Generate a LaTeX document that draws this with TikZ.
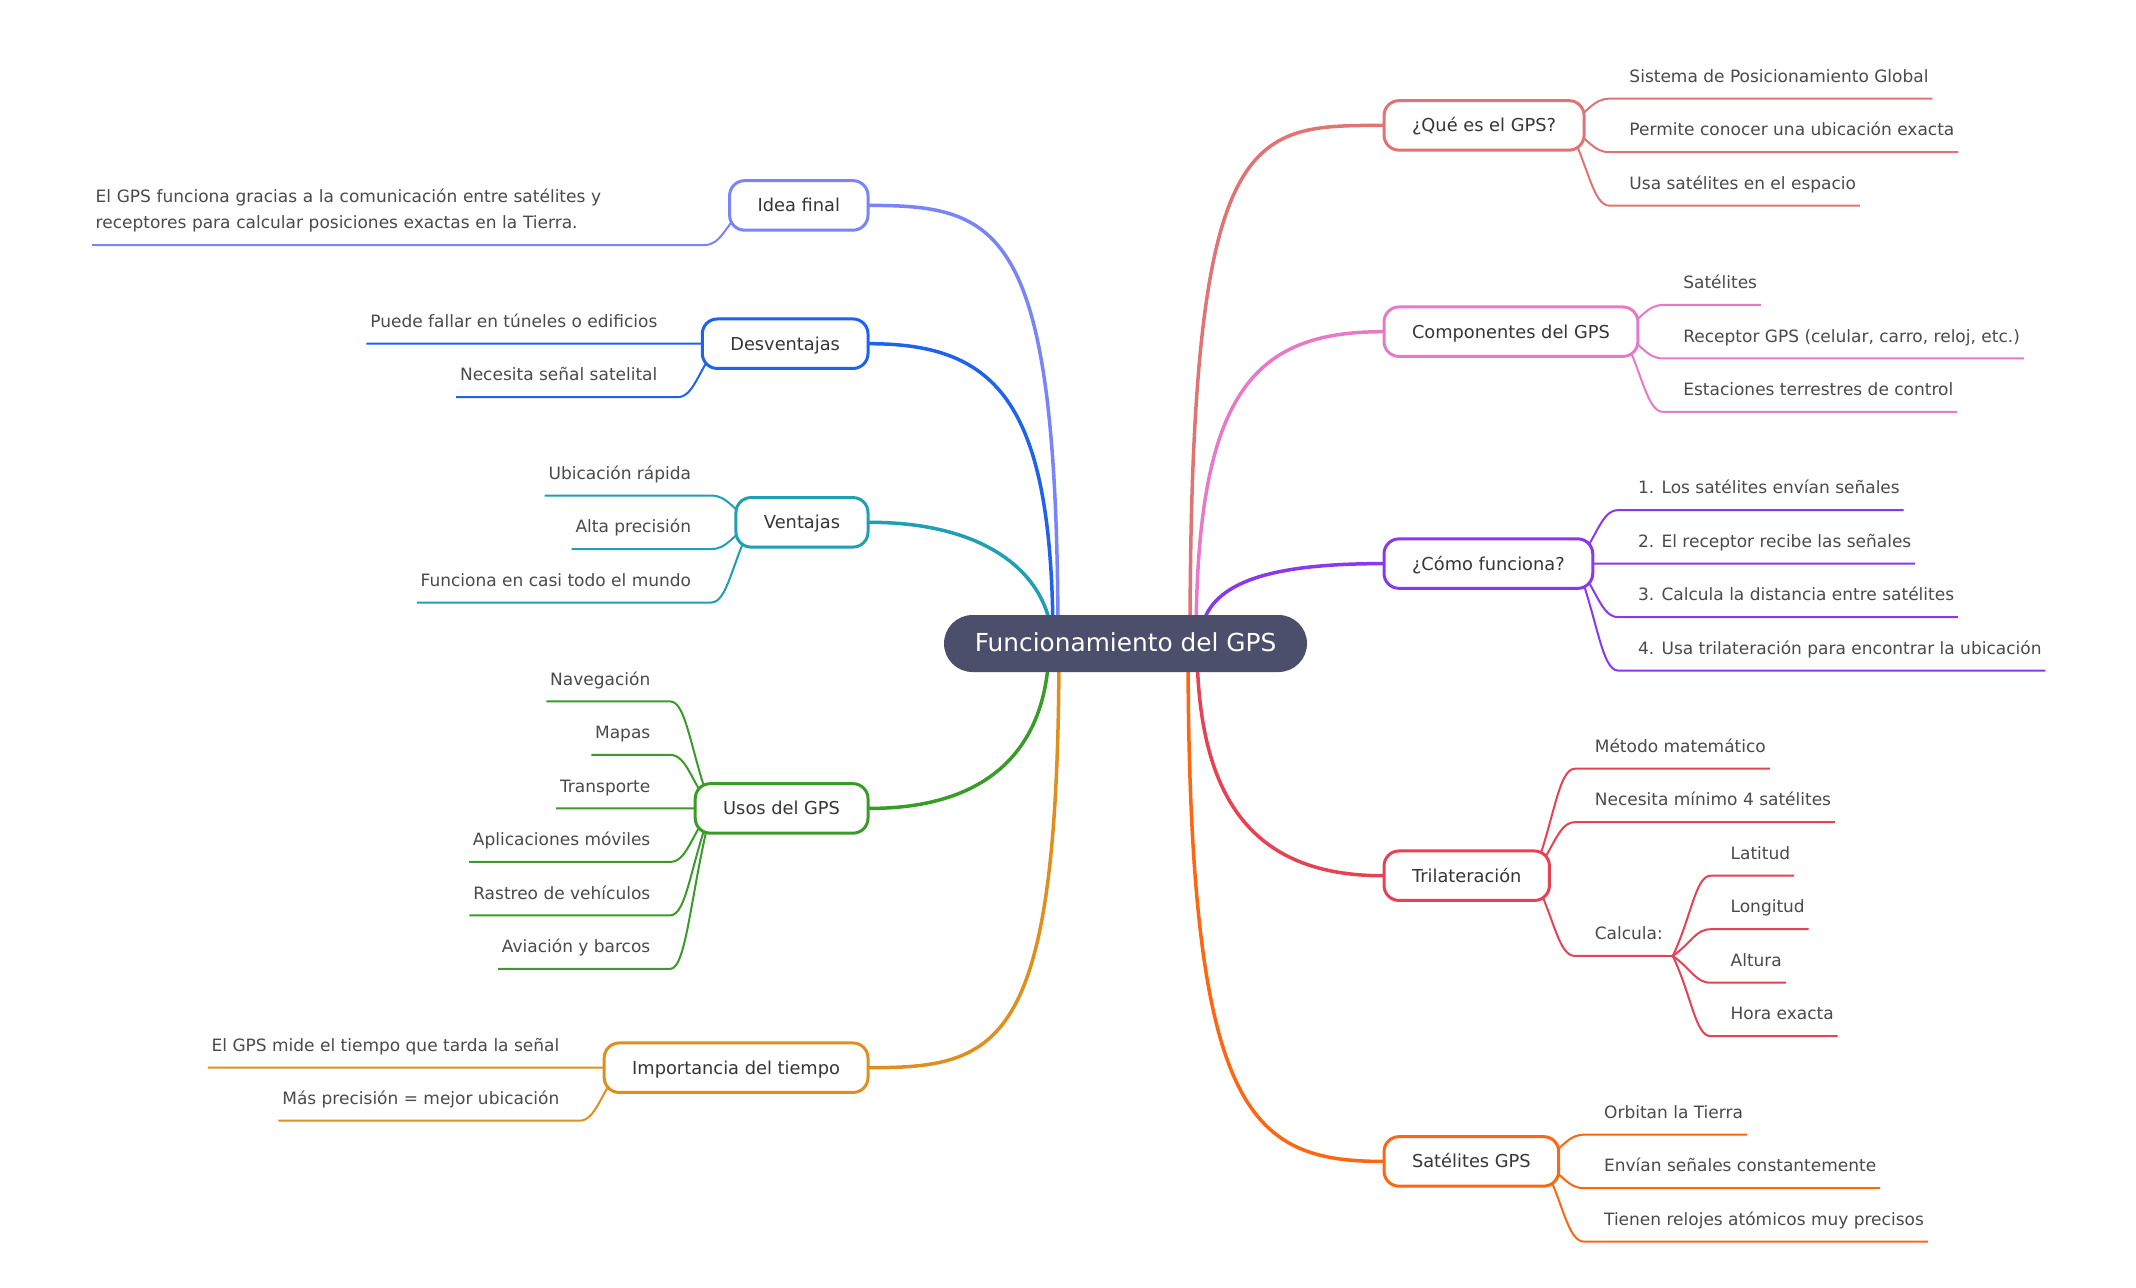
\documentclass[tikz,border=0pt]{standalone}
\usepackage{fontspec}
\setmainfont{DejaVu Sans}
\usetikzlibrary{calc}
\definecolor{rootc}{HTML}{4B4F6B}
\definecolor{cQue}{HTML}{E07474}
\definecolor{cComp}{HTML}{E879C8}
\definecolor{cComo}{HTML}{8A38EC}
\definecolor{cTri}{HTML}{E64254}
\definecolor{cSat}{HTML}{FF6611}
\definecolor{cIdea}{HTML}{7884F8}
\definecolor{cDesv}{HTML}{1E62EE}
\definecolor{cVent}{HTML}{209EB2}
\definecolor{cUsos}{HTML}{3A9C28}
\definecolor{cImp}{HTML}{E08E1E}
\definecolor{leaftext}{HTML}{4A4A4A}
\definecolor{topictext}{HTML}{363636}
\pgfdeclarelayer{background}
\pgfsetlayers{background,main}
\tikzset{
  rootnode/.style={fill=rootc, text=white, rounded corners=14.25pt, minimum height=28.5pt,
    minimum width=181.5pt, inner sep=0pt, font=\fontsize{12.4}{14}\selectfont,
    text height=9pt, text depth=0.8pt},
  topic/.style={draw=#1, fill=white, line width=1.5pt, rounded corners=7.5pt,
    minimum height=24.75pt, inner xsep=14pt, inner ysep=0pt, text=topictext,
    font=\fontsize{8.9}{10.5}\selectfont, text height=7pt, text depth=0.5pt},
  leaf/.style={inner xsep=1.75pt, inner ysep=0pt, text=leaftext,
    font=\fontsize{8.5}{13}\selectfont, text height=7pt, text depth=8pt},
  rleaf/.style={leaf, anchor=south west},
  lleaf/.style={leaf, anchor=south east},
  bline/.style={line width=1.75pt, line cap=round},
  lline/.style={line width=1pt},
}
% color, start coordinate, leaf
\newcommand\RLeafLink[3]{%
  \path (#2) coordinate (ta) ($(#3.south west)+(-16,0)$) coordinate (tb);
  \draw[lline,#1] (ta) .. controls ($(ta)!0.5!(tb)$) and ($(tb)!0.4!(ta|-tb)$) .. (tb) -- (#3.south east);}
\newcommand\LLeafLink[3]{%
  \path (#2) coordinate (ta) ($(#3.south east)+(16,0)$) coordinate (tb);
  \draw[lline,#1] (ta) .. controls ($(ta)!0.5!(tb)$) and ($(tb)!0.4!(ta|-tb)$) .. (tb) -- (#3.south west);}
% color, dx from root centre, target, factor
\newcommand\BranchLink[4]{%
  \path ($(root.center)+(#2,0)$) coordinate (ba) (#3) coordinate (bb);
  \draw[bline,#1] (ba) .. controls ($(ba)!#4!(ba|-bb)$) and ($(ba|-bb)!0.3!(bb)$) .. (bb);}
\begin{document}
\begin{tikzpicture}[x=0.5pt,y=-0.5pt]
\useasboundingbox (0,0) rectangle (2136,1287);
% root
\node[rootnode] (root) at (1125.5,643.5) {Funcionamiento del GPS};
% right topics
\node[topic=cQue, anchor=west] (que) at (1382.5,125.4) {¿Qué es el GPS?};
\node[topic=cComp, anchor=west] (comp) at (1382.5,331.7) {Componentes del GPS};
\node[topic=cComo, anchor=west] (como) at (1382.5,563.6) {¿Cómo funciona?};
\node[topic=cTri, anchor=west] (tri) at (1382.5,875.7) {Trilateración};
\node[topic=cSat, anchor=west] (sat) at (1382.5,1161.4) {Satélites GPS};
% left topics
\node[topic=cIdea, anchor=east] (idea) at (869.5,205.4) {Idea final};
\node[topic=cDesv, anchor=east] (desv) at (869.5,343.7) {Desventajas};
\node[topic=cVent, anchor=east] (vent) at (869.5,522.3) {Ventajas};
\node[topic=cUsos, anchor=east] (usos) at (869.5,808.4) {Usos del GPS};
\node[topic=cImp, anchor=east] (imp) at (869.5,1067.7) {Importancia del tiempo};
% right leaves
\node[rleaf] (que1) at ($(que.east)+(40,-26.75)$) {Sistema de Posicionamiento Global};
\node[rleaf] (que2) at ($(que.east)+(40,26.75)$) {Permite conocer una ubicación exacta};
\node[rleaf] (que3) at ($(que.east)+(40,80.25)$) {Usa satélites en el espacio};
\node[rleaf] (comp1) at ($(comp.east)+(40,-26.75)$) {Satélites};
\node[rleaf] (comp2) at ($(comp.east)+(40,26.75)$) {Receptor GPS (celular, carro, reloj, etc.)};
\node[rleaf] (comp3) at ($(comp.east)+(40,80.25)$) {Estaciones terrestres de control};
\node[rleaf] (como1) at ($(como.east)+(40,-53.5)$) {1. Los satélites envían señales};
\node[rleaf] (como2) at ($(como.east)+(40,0)$) {2. El receptor recibe las señales};
\node[rleaf] (como3) at ($(como.east)+(40,53.5)$) {3. Calcula la distancia entre satélites};
\node[rleaf] (como4) at ($(como.east)+(40,107)$) {4. Usa trilateración para encontrar la ubicación};
\node[rleaf] (tri1) at ($(tri.east)+(40,-107)$) {Método matemático};
\node[rleaf] (tri2) at ($(tri.east)+(40,-53.5)$) {Necesita mínimo 4 satélites};
\node[rleaf] (calc) at ($(tri.east)+(40,80.25)$) {Calcula:};
\coordinate (calcfan) at ($(calc.south east)+(6,0)$);
\node[rleaf] (calc1) at ($(calc.south east)+(60,-80.25)$) {Latitud};
\node[rleaf] (calc2) at ($(calc.south east)+(60,-26.75)$) {Longitud};
\node[rleaf] (calc3) at ($(calc.south east)+(60,26.75)$) {Altura};
\node[rleaf] (calc4) at ($(calc.south east)+(60,80.25)$) {Hora exacta};
\node[rleaf] (sat1) at ($(sat.east)+(40,-26.75)$) {Orbitan la Tierra};
\node[rleaf] (sat2) at ($(sat.east)+(40,26.75)$) {Envían señales constantemente};
\node[rleaf] (sat3) at ($(sat.east)+(40,80.25)$) {Tienen relojes atómicos muy precisos};
% left leaves
\node[lleaf, text width=294.5pt, align=left, text depth=21pt] (idea1) at ($(idea.west)+(-39.5,39.6)$)
  {El GPS funciona gracias a la comunicación entre satélites y\\receptores para calcular posiciones exactas en la Tierra.};
\node[lleaf] (desv1) at ($(desv.west)+(-39.5,0)$) {Puede fallar en túneles o edificios};
\node[lleaf] (desv2) at ($(desv.west)+(-39.5,53.5)$) {Necesita señal satelital};
\node[lleaf] (vent1) at ($(vent.west)+(-39.5,-26.75)$) {Ubicación rápida};
\node[lleaf] (vent2) at ($(vent.west)+(-39.5,26.75)$) {Alta precisión};
\node[lleaf] (vent3) at ($(vent.west)+(-39.5,80.25)$) {Funciona en casi todo el mundo};
\node[lleaf] (usos1) at ($(usos.west)+(-39.5,-107)$) {Navegación};
\node[lleaf] (usos2) at ($(usos.west)+(-39.5,-53.5)$) {Mapas};
\node[lleaf] (usos3) at ($(usos.west)+(-39.5,0)$) {Transporte};
\node[lleaf] (usos4) at ($(usos.west)+(-39.5,53.5)$) {Aplicaciones móviles};
\node[lleaf] (usos5) at ($(usos.west)+(-39.5,107)$) {Rastreo de vehículos};
\node[lleaf] (usos6) at ($(usos.west)+(-39.5,160.5)$) {Aviación y barcos};
\node[lleaf] (imp1) at ($(imp.west)+(-39.5,0)$) {El GPS mide el tiempo que tarda la señal};
\node[lleaf] (imp2) at ($(imp.west)+(-39.5,53)$) {Más precisión = mejor ubicación};
% start points of leaf connectors (inside the topic boxes)
\foreach \n in {que,comp,como,tri,sat} {\coordinate (\n S) at ($(\n.east)+(-18,0)$);}
\foreach \n in {idea,desv,vent,usos,imp} {\coordinate (\n S) at ($(\n.west)+(18,0)$);}
\begin{pgfonlayer}{background}
\fill[white] (0,0) rectangle (2136,1287);
% branches from the root
\BranchLink{cQue}{64.5}{que.west}{1.0}
\BranchLink{cComp}{70.5}{comp.west}{0.8}
\BranchLink{cComo}{74.5}{como.west}{0.7}
\BranchLink{cTri}{71.5}{tri.west}{0.67}
\BranchLink{cSat}{62.5}{sat.west}{0.9}
\BranchLink{cIdea}{-67.5}{idea.east}{0.95}
\BranchLink{cDesv}{-72.5}{desv.east}{0.8}
\BranchLink{cVent}{-73.5}{vent.east}{0.5}
\BranchLink{cUsos}{-76.5}{usos.east}{0.6}
\BranchLink{cImp}{-66.5}{imp.east}{0.95}
% right leaf links
\RLeafLink{cQue}{queS}{que1}
\RLeafLink{cQue}{queS}{que2}
\RLeafLink{cQue}{queS}{que3}
\RLeafLink{cComp}{compS}{comp1}
\RLeafLink{cComp}{compS}{comp2}
\RLeafLink{cComp}{compS}{comp3}
\RLeafLink{cComo}{comoS}{como1}
\RLeafLink{cComo}{comoS}{como2}
\RLeafLink{cComo}{comoS}{como3}
\RLeafLink{cComo}{comoS}{como4}
\RLeafLink{cTri}{triS}{tri1}
\RLeafLink{cTri}{triS}{tri2}
\RLeafLink{cTri}{triS}{calc}
\draw[lline,cTri] (calc.south east) -- (calcfan);
\RLeafLink{cTri}{calcfan}{calc1}
\RLeafLink{cTri}{calcfan}{calc2}
\RLeafLink{cTri}{calcfan}{calc3}
\RLeafLink{cTri}{calcfan}{calc4}
\RLeafLink{cSat}{satS}{sat1}
\RLeafLink{cSat}{satS}{sat2}
\RLeafLink{cSat}{satS}{sat3}
% left leaf links
\LLeafLink{cIdea}{ideaS}{idea1}
\LLeafLink{cDesv}{desvS}{desv1}
\LLeafLink{cDesv}{desvS}{desv2}
\LLeafLink{cVent}{ventS}{vent1}
\LLeafLink{cVent}{ventS}{vent2}
\LLeafLink{cVent}{ventS}{vent3}
\LLeafLink{cUsos}{usosS}{usos1}
\LLeafLink{cUsos}{usosS}{usos2}
\LLeafLink{cUsos}{usosS}{usos3}
\LLeafLink{cUsos}{usosS}{usos4}
\LLeafLink{cUsos}{usosS}{usos5}
\LLeafLink{cUsos}{usosS}{usos6}
\LLeafLink{cImp}{impS}{imp1}
\LLeafLink{cImp}{impS}{imp2}
\end{pgfonlayer}
\end{tikzpicture}
\end{document}
